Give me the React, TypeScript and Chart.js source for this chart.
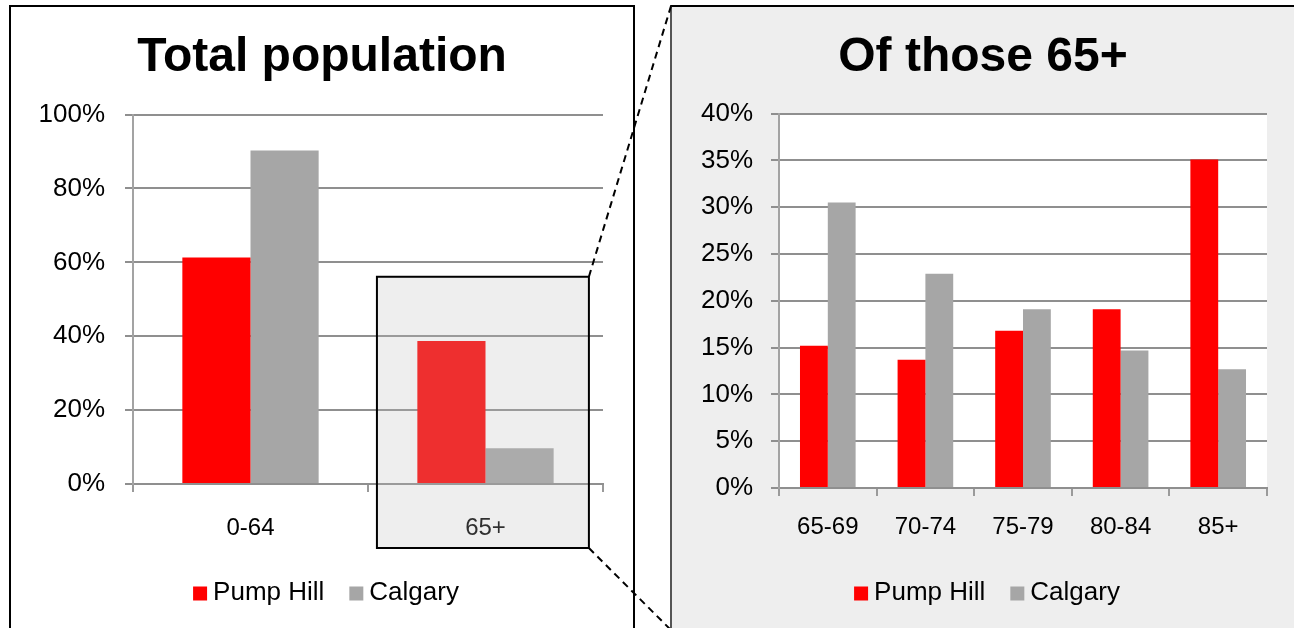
import React, { useEffect, useRef } from "react";
import { Chart, registerables } from "chart.js";

Chart.register(...registerables);

// ---------- data ----------
const seriesNames = ["Pump Hill", "Calgary"];
const seriesColors = ["#ff0000", "#a6a6a6"];

const totalTitle = "Total population";
const totalCategories = ["0-64", "65+"];
const totalPumpHill = [61.3, 38.7];
const totalCalgary = [90.3, 9.7];
const totalTicks = [0, 20, 40, 60, 80, 100];
const highlightIndex = 1;

const seniorTitle = "Of those 65+";
const seniorCategories = ["65-69", "70-74", "75-79", "80-84", "85+"];
const seniorPumpHill = [15.2, 13.7, 16.8, 19.1, 35.1];
const seniorCalgary = [30.5, 22.9, 19.1, 14.7, 12.7];
const seniorTicks = [0, 5, 10, 15, 20, 25, 30, 35, 40];

// ---------- styling ----------
const FONT = "'Liberation Sans', Arial, Helvetica, sans-serif";
const CANVAS_W = 622;
const CANVAS_H = 621;
const LEFT_CANVAS = { x: 11, y: 7 };
const RIGHT_CANVAS = { x: 672, y: 7 };

type Layout = {
  title: string;
  ticks: number[];
  yWidth: number;
  yPad: number;
  xHeight: number;
  xPad: number;
  rightPad: number;
  titleBottom: number;
  catPct: number;
};

// legend drawn from the datasets, with tight box-to-text spacing
const legendPlugin = {
  id: "customLegend",
  afterDraw(chart: any, _args: any, opts: any) {
    const ctx = chart.ctx;
    const ds = chart.data.datasets;
    ctx.save();
    ctx.font = `${opts.size}px ${FONT}`;
    const widths = ds.map((d: any) => ctx.measureText(d.label).width);
    let total = 0;
    widths.forEach((w: number, i: number) => {
      total += opts.box + opts.gap + w + (i > 0 ? opts.spacing : 0);
    });
    let x = chart.width / 2 - total / 2 + (opts.shift || 0);
    const y = opts.y;
    ctx.textBaseline = "middle";
    ctx.textAlign = "left";
    ds.forEach((d: any, i: number) => {
      ctx.fillStyle = d.backgroundColor;
      ctx.fillRect(x, y - opts.box / 2 + 1, opts.box, opts.box);
      x += opts.box + opts.gap;
      ctx.fillStyle = "#000";
      ctx.fillText(d.label, x, y);
      x += widths[i] + opts.spacing;
    });
    ctx.restore();
  },
};

function buildConfig(categories: string[], a: number[], b: number[], L: Layout, plugins: any[], legendShift: number): any {
  return {
    type: "bar",
    data: {
      labels: categories,
      datasets: [
        { label: seriesNames[0], data: a, backgroundColor: seriesColors[0], borderWidth: 0 },
        { label: seriesNames[1], data: b, backgroundColor: seriesColors[1], borderWidth: 0 },
      ],
    },
    plugins: [...plugins, legendPlugin],
    options: {
      animation: false,
      responsive: false,
      devicePixelRatio: 1,
      events: [],
      layout: { padding: 0 },
      datasets: { bar: { categoryPercentage: L.catPct, barPercentage: 1 } },
      plugins: {
        title: {
          display: true,
          text: L.title,
          color: "#000",
          font: { family: FONT, size: 48, weight: "bold", lineHeight: 1.2 },
          padding: { top: 22, bottom: L.titleBottom },
        },
        legend: { display: false },
        tooltip: { enabled: false },
        customLegend: { y: 585.5, size: 26, box: 14, gap: 6, spacing: 25, shift: legendShift },
      },
      scales: {
        x: {
          offset: true,
          grid: {
            offset: true,
            drawOnChartArea: false,
            drawTicks: true,
            tickLength: 8,
            color: "#9a9a9a",
            lineWidth: 2,
          },
          border: { color: "#8f8f8f", width: 2 },
          ticks: {
            color: "#000",
            font: { family: FONT, size: 24 },
            padding: L.xPad,
            maxRotation: 0,
            autoSkip: false,
          },
          afterFit: (s: any) => {
            s.height = L.xHeight;
          },
        },
        y: {
          min: L.ticks[0],
          max: L.ticks[L.ticks.length - 1],
          afterBuildTicks: (s: any) => {
            s.ticks = L.ticks.map((v) => ({ value: v }));
          },
          grid: { color: "#8f8f8f", lineWidth: 2, tickLength: 8, drawTicks: true },
          border: { color: "#a3a3a3", width: 2 },
          ticks: {
            color: "#000",
            font: { family: FONT, size: 26 },
            padding: L.yPad,
            callback: (v: any) => v + "%",
          },
          afterFit: (s: any) => {
            s.width = L.yWidth;
          },
        },
        spacer: {
          type: "linear",
          axis: "y",
          position: "right",
          display: true,
          grid: { display: false, drawTicks: false },
          border: { display: false },
          ticks: { display: false },
          afterFit: (s: any) => {
            s.width = L.rightPad;
          },
        },
      },
    },
  };
}

const highlightPlugin = {
  id: "highlightBox",
  afterDraw(chart: any) {
    const xs = chart.scales.x;
    const ys = chart.scales.y;
    const cat = xs.width / totalCategories.length;
    const xc = xs.getPixelForValue(highlightIndex);
    const left = xc - cat * 0.462;
    const right = xc + cat * 0.44;
    const top = ys.getPixelForValue(56.1);
    const bottom = chart.chartArea.bottom + 64;
    const ctx = chart.ctx;
    ctx.save();
    ctx.fillStyle = "rgba(186,186,186,0.25)";
    ctx.fillRect(left, top, right - left, bottom - top);
    ctx.strokeStyle = "#000";
    ctx.lineWidth = 2;
    ctx.strokeRect(left, top, right - left, bottom - top);
    ctx.restore();
    chart.$highlight = { left, right, top, bottom };
  },
};

const plotBgPlugin = {
  id: "plotBg",
  beforeDraw(chart: any) {
    const { left, top, width, height } = chart.chartArea;
    const ctx = chart.ctx;
    ctx.save();
    ctx.fillStyle = "#ffffff";
    ctx.fillRect(left, top, width, height);
    ctx.restore();
  },
};

export default function App() {
  const leftRef = useRef<HTMLCanvasElement>(null);
  const rightRef = useRef<HTMLCanvasElement>(null);
  const overlayRef = useRef<HTMLCanvasElement>(null);

  useEffect(() => {
    const left = new Chart(
      leftRef.current as HTMLCanvasElement,
      buildConfig(
        totalCategories,
        totalPumpHill,
        totalCalgary,
        {
          title: totalTitle,
          ticks: totalTicks,
          yWidth: 122,
          yPad: 20,
          xHeight: 144,
          xPad: 22,
          rightPad: 30,
          titleBottom: 28,
          catPct: 0.58,
        },
        [highlightPlugin],
        4
      )
    );
    const right = new Chart(
      rightRef.current as HTMLCanvasElement,
      buildConfig(
        seniorCategories,
        seniorPumpHill,
        seniorCalgary,
        {
          title: seniorTitle,
          ticks: seniorTicks,
          yWidth: 107,
          yPad: 18,
          xHeight: 140,
          xPad: 17,
          rightPad: 27,
          titleBottom: 27,
          catPct: 0.57,
        },
        [plotBgPlugin],
        4
      )
    );

    // connector dashed lines
    const ov = overlayRef.current as HTMLCanvasElement;
    const ctx = ov.getContext("2d") as CanvasRenderingContext2D;
    ctx.clearRect(0, 0, ov.width, ov.height);
    const box = (left as any).$highlight;
    if (box) {
      const bx = box.right + LEFT_CANVAS.x;
      const byTop = box.top + LEFT_CANVAS.y;
      const byBot = box.bottom + LEFT_CANVAS.y;
      ctx.save();
      ctx.strokeStyle = "#000";
      ctx.lineWidth = 2;
      ctx.setLineDash([7, 5]);
      ctx.beginPath();
      ctx.moveTo(bx, byTop);
      ctx.lineTo(RIGHT_CANVAS.x - 1, RIGHT_CANVAS.y - 1);
      ctx.stroke();
      ctx.beginPath();
      ctx.moveTo(bx, byBot);
      ctx.lineTo(bx + 90, byBot + 90);
      ctx.stroke();
      ctx.restore();
    }

    return () => {
      left.destroy();
      right.destroy();
    };
  }, []);

  return (
    <div
      style={{
        position: "fixed",
        left: 0,
        top: 0,
        width: 1294,
        height: 628,
        overflow: "hidden",
        background: "#ffffff",
      }}
    >
      <div
        style={{
          position: "absolute",
          left: 9,
          top: 5,
          width: 626,
          height: 700,
          boxSizing: "border-box",
          border: "2px solid #000",
          background: "#ffffff",
        }}
      />
      <div
        style={{
          position: "absolute",
          left: 670,
          top: 5,
          width: 700,
          height: 700,
          boxSizing: "border-box",
          borderLeft: "2px solid #555",
          borderTop: "2px solid #000",
          background: "#eeeeee",
        }}
      />
      <canvas
        ref={leftRef}
        width={CANVAS_W}
        height={CANVAS_H}
        style={{ position: "absolute", left: LEFT_CANVAS.x, top: LEFT_CANVAS.y, width: CANVAS_W, height: CANVAS_H }}
      />
      <canvas
        ref={rightRef}
        width={CANVAS_W}
        height={CANVAS_H}
        style={{ position: "absolute", left: RIGHT_CANVAS.x, top: RIGHT_CANVAS.y, width: CANVAS_W, height: CANVAS_H }}
      />
      <canvas
        ref={overlayRef}
        width={1294}
        height={628}
        style={{ position: "absolute", left: 0, top: 0, width: 1294, height: 628, pointerEvents: "none" }}
      />
    </div>
  );
}
